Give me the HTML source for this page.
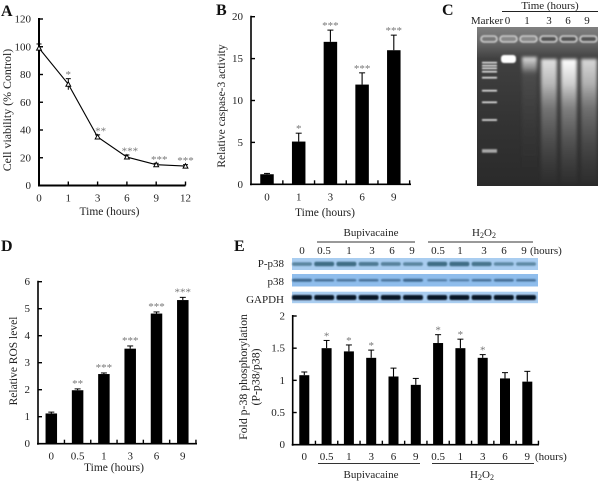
<!DOCTYPE html>
<html>
<head>
<meta charset="utf-8">
<style>
html,body{margin:0;padding:0;background:#fff;}
svg{display:block;filter:blur(0.3px);}
text{font-family:"Liberation Serif",serif;fill:#222;font-size:11px;}
.big{font-size:11.5px;}
.e-title{font-size:11.8px;}
.a-title{font-size:11.9px;}
.letter{font-weight:bold;font-size:16px;fill:#111;}
.star{fill:#777;font-size:11px;}
.tm{text-anchor:middle;}
.te{text-anchor:end;}
</style>
</head>
<body>
<svg id="fig" xmlns="http://www.w3.org/2000/svg" width="600" height="481" viewBox="0 0 600 481">
<defs>
<filter id="b1" x="-30%" y="-80%" width="160%" height="260%"><feGaussianBlur stdDeviation="0.9"/></filter>
<filter id="b2" x="-30%" y="-20%" width="160%" height="140%"><feGaussianBlur stdDeviation="1.5"/></filter>
<linearGradient id="gelBg" x1="0" y1="0" x2="0" y2="1">
<stop offset="0" stop-color="#808080"/><stop offset="0.1" stop-color="#666"/><stop offset="0.2" stop-color="#404040"/><stop offset="0.6" stop-color="#333"/><stop offset="1" stop-color="#2a2a2a"/>
</linearGradient>
<linearGradient id="smear1" x1="0" y1="0" x2="0" y2="1">
<stop offset="0" stop-color="#fff" stop-opacity="1"/><stop offset="0.2" stop-color="#e8e8e8" stop-opacity="0.85"/><stop offset="0.4" stop-color="#bbb" stop-opacity="0.55"/><stop offset="0.7" stop-color="#999" stop-opacity="0.28"/><stop offset="1" stop-color="#777" stop-opacity="0.05"/>
</linearGradient>
<linearGradient id="smear2" x1="0" y1="0" x2="0" y2="1">
<stop offset="0" stop-color="#fff" stop-opacity="0.95"/><stop offset="0.1" stop-color="#ccc" stop-opacity="0.6"/><stop offset="0.16" stop-color="#777" stop-opacity="0.3"/><stop offset="0.6" stop-color="#555" stop-opacity="0.22"/><stop offset="1" stop-color="#444" stop-opacity="0.05"/>
</linearGradient>
</defs>

<text class="letter" x="1" y="16">A</text>
<text class="letter" x="216" y="15">B</text>
<text class="letter" x="442" y="15">C</text>
<text class="letter" x="1" y="251">D</text>
<text class="letter" x="234" y="251">E</text>

<text class="a-title" transform="translate(11,110) rotate(-90)" text-anchor="middle">Cell viability (% Control)</text>
<text class="big tm" x="109.5" y="215">Time (hours)</text>

<text class="big" transform="translate(225,106) rotate(-90)" text-anchor="middle">Relative caspase-3 activity</text>
<text class="big tm" x="325" y="216">Time (hours)</text>

<text class="big" transform="translate(17,361) rotate(-90)" text-anchor="middle">Relative ROS level</text>
<text class="big tm" x="114" y="471">Time (hours)</text>

<text class="e-title" transform="translate(247,377) rotate(-90)" text-anchor="middle">Fold p-38 phosphorylation</text>
<text class="e-title" transform="translate(259.5,377) rotate(-90)" text-anchor="middle">(P-p38/p38)</text>

<text class="tm" x="550" y="9">Time (hours)</text>
<line x1="502" y1="11.5" x2="598" y2="11.5" stroke="#222" stroke-width="1"/>
<text class="tm" x="487" y="24">Marker</text>

<text class="tm" x="371" y="236">Bupivacaine</text>
<text class="tm" x="484" y="236">H<tspan font-size="8" dy="2">2</tspan><tspan dy="-2">O</tspan><tspan font-size="8" dy="2">2</tspan></text>
<line x1="317" y1="242" x2="415" y2="242" stroke="#333"/>
<line x1="428" y1="242" x2="533" y2="242" stroke="#333"/>
<text x="530" y="254">(hours)</text>
<text class="te" x="284" y="267">P-p38</text>
<text class="te" x="284" y="285">p38</text>
<text class="te" x="284" y="303">GAPDH</text>

<text x="535" y="460">(hours)</text>
<line x1="318" y1="463.5" x2="420" y2="463.5" stroke="#333"/>
<line x1="432" y1="463.5" x2="534" y2="463.5" stroke="#333"/>
<text class="tm" x="371" y="478">Bupivacaine</text>
<text class="tm" x="482" y="478">H<tspan font-size="8" dy="2">2</tspan><tspan dy="-2">O</tspan><tspan font-size="8" dy="2">2</tspan></text>

<g id="charts"></g>
</svg>
<script>
// Panel A
const aCategories = ['0','1','3','6','9','12'];
const aValues = [99,73,35,20.5,15,14];
const aErrors = [3,4,1.5,1.5,1,1];
const aStars = ['','*','**','***','***','***'];
const aTicks = [0,20,40,60,80,100,120];
// Panel B
const bCategories = ['0','1','3','6','9'];
const bValues = [1.2,5.1,17,11.9,16];
const bErrors = [0.1,1,1.4,1.4,1.8];
const bStars = ['','*','***','***','***'];
const bTicks = [0,5,10,15,20];
// Panel D
const dCategories = ['0','0.5','1','3','6','9'];
const dValues = [1.12,1.98,2.58,3.52,4.82,5.32];
const dErrors = [0.05,0.05,0.04,0.1,0.06,0.1];
const dStars = ['','**','***','***','***','***'];
const dTicks = [0,1,2,3,4,5,6];
// Panel E
const eCategories = ['0','0.5','1','3','6','9','0.5','1','3','6','9'];
const eValues = [1.08,1.5,1.45,1.35,1.06,0.93,1.58,1.5,1.35,1.03,0.98];
const eErrors = [0.05,0.12,0.1,0.12,0.13,0.1,0.13,0.14,0.05,0.09,0.16];
const eStars = ['','*','*','*','','','*','*','*','',''];
const eTicks = ['0','0.5','1','1.5','2'];
// Blots: band strength per lane
const blotTimes = ['0','0.5','1','3','6','9','0.5','1','3','6','9'];
const blotPp38 = [0.45,0.8,0.8,0.6,0.5,0.45,0.8,0.8,0.7,0.4,0.4];
const blotP38 = [0.6,0.45,0.4,0.45,0.4,0.6,0.3,0.3,0.45,0.5,0.45];
const blotGapdh = [1,1,1,1,1,1,1,1,1,1,1];
// Gel
const gelLanes = ['0','1','3','6','9'];
const gelLaneBrightness = [1,0.9,0.85,1,0.8];
const gelMarkerBands = [62.7,65.7,68.3,71.7,77.7,90.7,102.3,120,150];

const root = document.getElementById('charts');
const NS = 'http://www.w3.org/2000/svg';
function mk(tag, attrs, txt){
  const e = document.createElementNS(NS, tag);
  for(const k in attrs) e.setAttribute(k, attrs[k]);
  if(txt !== undefined) e.textContent = txt;
  root.appendChild(e);
  return e;
}
function axisY(y0, yTop, max){ return v => y0 - (y0 - yTop) * v / max; }

function yAxis(prefix, x, y0, yTop, ticks, max, width, labelX){
  const sy = axisY(y0, yTop, max);
  const ax = mk('line',{x1:x,y1:yTop-1,x2:x,y2:y0+1,stroke:'#000','stroke-width':width});
  
  
  ticks.forEach(t => {
    const v = parseFloat(t);
    const tk = mk('line',{x1:x,y1:sy(v),x2:x+4,y2:sy(v),stroke:'#000','stroke-width':1.4});
    
    
    const lb = mk('text',{x:labelX,y:sy(v)+3.5,class:'te'},String(t));
    
    
  });
  return sy;
}
function xAxis(prefix, x1, x2, y0, width){
  const ax = mk('line',{x1:x1-1,y1:y0,x2:x2,y2:y0,stroke:'#000','stroke-width':width});
  
  
}
function star(prefix, x, y, s){
  if(!s) return;
  const t = mk('text',{x:x,y:y,class:'star tm'},s);
  
  
}
function barPanel(o){
  const sy = yAxis(o.p, o.x0, o.y0, o.yTop, o.ticks, o.max, 1.6, o.labelX);
  xAxis(o.p, o.x0, o.x1, o.y0, 1.6);
  const n = o.cats.length;
  const sx = i => o.first + o.step * i;
  for(let i=0;i<n;i++){
    const tx = sx(i) + o.step/2;
    const tk = mk('line',{x1:tx,y1:o.y0,x2:tx,y2:o.y0-4,stroke:'#000','stroke-width':1.4});
    
    
    const top = sy(o.vals[i]);
    const errTop = sy(o.vals[i] + o.errs[i]);
    const er = mk('line',{x1:sx(i),y1:top,x2:sx(i),y2:errTop,stroke:'#000','stroke-width':1.1});
    
    
    const cap = mk('line',{x1:sx(i)-3,y1:errTop,x2:sx(i)+3,y2:errTop,stroke:'#000','stroke-width':1});
    
    
    const b = mk('rect',{x:sx(i)-o.w/2,y:top,width:o.w,height:o.y0-top,fill:'#000'});
    
    
    const lb = mk('text',{x:sx(i)+(o.dx||0),y:o.labelY,class:'tm'},o.cats[i]);
    
    
    star(o.p, sx(i), errTop + o.starDy, o.stars[i]);
  }
}

// Panel A line chart
(function(){
  const x0 = 39, y0 = 185.5, yTop = 19, step = 29.3;
  const sy = yAxis('panel-a', x0, y0, yTop, aTicks, 120, 2, 31);
  xAxis('panel-a', x0, x0 + step*5, y0, 2);
  const sx = i => x0 + step*i;
  const pts = aValues.map((v,i) => sx(i) + ',' + sy(v)).join(' ');
  const line = mk('polyline',{points:pts,fill:'none',stroke:'#000','stroke-width':1.1});
  
  
  aCategories.forEach((c,i) => {
    const tk = mk('line',{x1:sx(i),y1:y0,x2:sx(i),y2:y0-4,stroke:'#000','stroke-width':1.4});
    
    
    const lb = mk('text',{x:sx(i),y:201.5,class:'tm'},c);
    
    
    const t = sy(aValues[i]+aErrors[i]), bt = sy(aValues[i]-aErrors[i]);
    const er = mk('line',{x1:sx(i),y1:t,x2:sx(i),y2:bt,stroke:'#000','stroke-width':1});
    
    
    const cap = mk('line',{x1:sx(i)-2.5,y1:t,x2:sx(i)+2.5,y2:t,stroke:'#000','stroke-width':1});
    
    
    const y = sy(aValues[i]);
    const m = mk('polygon',{points:(sx(i)-2.4)+','+(y+2)+' '+(sx(i)+2.4)+','+(y+2)+' '+sx(i)+','+(y-2.4),fill:'#fff',stroke:'#000','stroke-width':1});
    
    
    star('panel-a', sx(i)+(i>1 && i<5?3:0), t - 0.5, aStars[i]);
  });
})();

barPanel({p:'panel-b',x0:251,x1:411,y0:184.3,yTop:16.7,max:20,ticks:bTicks,labelX:243,cats:bCategories,vals:bValues,errs:bErrors,stars:bStars,first:267,step:31.7,w:13.5,labelY:200.5,starDy:-1});
barPanel({p:'panel-d',x0:38,x1:197,y0:443.7,yTop:281.7,max:6,ticks:dTicks,labelX:30,cats:dCategories,vals:dValues,errs:dErrors,stars:dStars,first:51.3,step:26.3,w:11.5,labelY:459.5,starDy:-2});
barPanel({p:'panel-e',x0:292.7,x1:539,y0:444.7,yTop:316,max:2,ticks:eTicks,labelX:285,cats:eCategories,vals:eValues,errs:eErrors,stars:eStars,first:304.3,step:22.3,w:10,labelY:460,starDy:-1});

// Western blots
function blot(name, y, h, arr, bg, col, bh){
  const r = mk('rect',{x:292,y:y,width:246,height:h,fill:bg});
  
  
  arr.forEach((s,i) => {
    const cx = 302 + i*22.2 + (i>5?2:0);
    const band = mk('rect',{x:cx-10,y:y+h/2-bh*(0.5+s*0.5)/2,width:20,height:bh*(0.5+s*0.5),rx:2,fill:col,opacity:0.35+0.6*s,filter:'url(#b1)'});
    
    
  });
}
blot('p-p38', 258, 12, blotPp38, '#a9cdf0', '#2a5a70', 5);
blot('p38', 274, 12.5, blotP38, '#8fbdec', '#1c4468', 3.6);
blot('gapdh', 291.7, 11.5, blotGapdh, '#a9cdf0', '#05101c', 5);
blotTimes.forEach((t,i) => {
  const positions = [302,324,349,372,392,412,438,460,484,504,524];
  const lb = mk('text',{x:positions[i],y:254,class:'tm'},t);
  
  
});

// Gel
(function(){
  const gx = 477, gy = 27, gw = 121, gh = 159;
  const bg = mk('rect',{x:gx,y:gy,width:gw,height:gh,fill:'url(#gelBg)'});
  
  
  const laneW = 17, first = 500, step = 20;
  const well0 = mk('rect',{x:481,y:36,width:16,height:6,rx:3,fill:'#777',stroke:'#ccc','stroke-width':1.6,filter:'url(#b1)'});
  
  
  gelLanes.forEach((c,i) => {
    const lx = first + step*i;
    const w = mk('rect',{x:lx,y:36,width:laneW,height:6,rx:3,fill:i>=2?'#555':'#888',stroke:'#ccc','stroke-width':1.6,filter:'url(#b1)'});
    
    
    const label = mk('text',{x:[507.5,527,549,568,587][i],y:24,class:'tm'},c);
    
    
    if(i>=2){
      const sm = mk('rect',{x:lx+1,y:59,width:laneW-1,height:124,fill:'url(#smear1)',opacity:gelLaneBrightness[i],filter:'url(#b2)'});
      
      
    } else if(i===1){
      const sm = mk('rect',{x:lx+2,y:57,width:laneW-2,height:110,fill:'url(#smear2)',opacity:gelLaneBrightness[i],filter:'url(#b2)'});
      
      
    } else {
      const sm = mk('rect',{x:lx+1,y:55,width:laneW-2,height:8,rx:3,fill:'#fff',opacity:gelLaneBrightness[i],filter:'url(#b1)'});
      
      
    }
  });
  gelMarkerBands.forEach(y => {
    const m = mk('rect',{x:482,y:y-0.8,width:15,height:y===150?3.5:1.6,fill:y===150?'#aaa':'#e8e8e8',filter:'url(#b1)'});
    
    
  });
})();
</script>
</body>
</html>
